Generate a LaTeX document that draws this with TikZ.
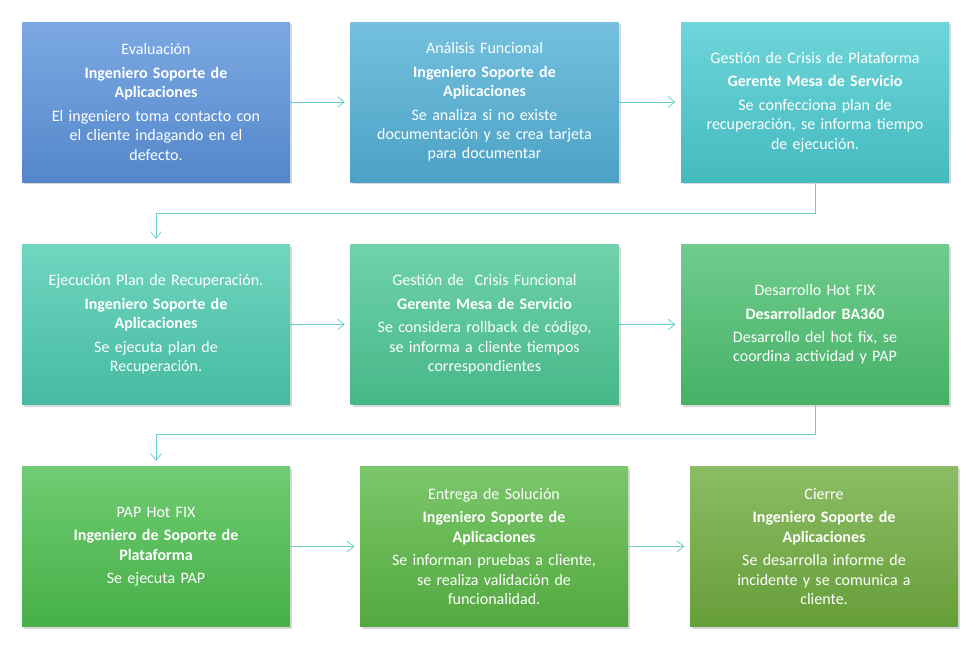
\documentclass[tikz,border=0pt]{standalone}
\usepackage{fontspec}
\setmainfont{Carlito}
\usetikzlibrary{arrows.meta,shadows}
\definecolor{cA}{HTML}{5B93DC}
\definecolor{cB}{HTML}{52B0D6}
\definecolor{cC}{HTML}{4ACBD0}
\definecolor{cD}{HTML}{4CCBB0}
\definecolor{cE}{HTML}{4CC795}
\definecolor{cF}{HTML}{4CC070}
\definecolor{cG}{HTML}{4CBF4E}
\definecolor{cH}{HTML}{5AB845}
\definecolor{cI}{HTML}{6FAC3E}
\definecolor{linkcol}{HTML}{6CCFC8}
\tikzset{
  stage/.style={rectangle, minimum width=201pt, minimum height=120pt, text width=190pt,
    align=center, text=white, inner sep=2pt, top color=#1!80!white, bottom color=#1!92!black,
    drop shadow={shadow xshift=1.5pt, shadow yshift=-1.5pt, opacity=0.3},
    font=\fontsize{12}{14.6}\selectfont},
  link/.style={draw=linkcol, line width=0.6pt, -{Straight Barb[length=5pt,width=8pt]}, shorten >=4pt}
}
\begin{document}
\begin{tikzpicture}[x=0.75pt, y=-0.75pt]
  \useasboundingbox (0,0) rectangle (978,644);
  % Place nodes
  \node [stage=cA] (eval) at (156,102) {Evaluación\\[3pt]\textbf{Ingeniero Soporte de}\\\textbf{Aplicaciones}\\[3pt]El ingeniero toma contacto con\\el cliente indagando en el\\defecto.};
  \node [stage=cB] (anal) at (484.5,102) {Análisis Funcional\\[3pt]\textbf{Ingeniero Soporte de}\\\textbf{Aplicaciones}\\[3pt]Se analiza si no existe\\documentación y se crea tarjeta\\para documentar};
  \node [stage=cC] (crisp) at (815,102) {Gestión de Crisis de Plataforma\\[3pt]\textbf{Gerente Mesa de Servicio}\\[3pt]Se confecciona plan de\\recuperación, se informa tiempo\\de ejecución.};
  \node [stage=cD] (ejec) at (156,324.5) {Ejecución Plan de Recuperación.\\[3pt]\textbf{Ingeniero Soporte de}\\\textbf{Aplicaciones}\\[3pt]Se ejecuta plan de\\Recuperación.};
  \node [stage=cE] (crisf) at (484.5,324.5) {Gestión de\ \ Crisis Funcional\\[3pt]\textbf{Gerente Mesa de Servicio}\\[3pt]Se considera rollback de código,\\se informa a cliente tiempos\\correspondientes};
  \node [stage=cF] (hotfix) at (815,324.5) {Desarrollo Hot FIX\\[3pt]\textbf{Desarrollador BA360}\\[3pt]Desarrollo del hot fix, se\\coordina actividad y PAP};
  \node [stage=cG] (pap) at (156,546.5) {PAP Hot FIX\\[3pt]\textbf{Ingeniero de Soporte de}\\\textbf{Plataforma}\\[3pt]Se ejecuta PAP};
  \node [stage=cH] (entrega) at (494,546.5) {Entrega de Solución\\[3pt]\textbf{Ingeniero Soporte de}\\\textbf{Aplicaciones}\\[3pt]Se informan pruebas a cliente,\\se realiza validación de\\funcionalidad.};
  \node [stage=cI] (cierre) at (824,546.5) {Cierre\\[3pt]\textbf{Ingeniero Soporte de}\\\textbf{Aplicaciones}\\[3pt]Se desarrolla informe de\\incidente y se comunica a\\cliente.};
  % Draw edges
  \path [link] (eval) -- (anal);
  \path [link] (anal) -- (crisp);
  \path [link] (crisp.south) -- ++(0,31) -| (ejec.north);
  \path [link] (ejec) -- (crisf);
  \path [link] (crisf) -- (hotfix);
  \path [link] (hotfix.south) -- ++(0,30) -| (pap.north);
  \path [link] (pap) -- (entrega);
  \path [link] (entrega) -- (cierre);
\end{tikzpicture}
\end{document}
